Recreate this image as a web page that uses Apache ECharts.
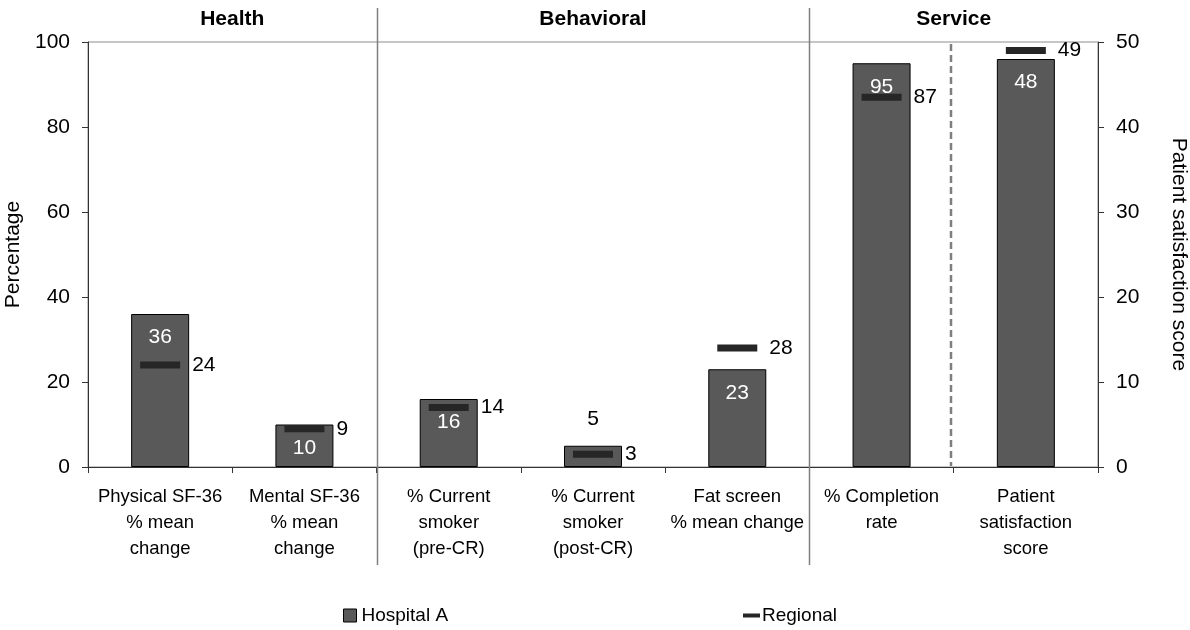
<!DOCTYPE html>
<html>
<head>
<meta charset="utf-8">
<title>Hospital A vs Regional</title>
<script src="https://cdn.jsdelivr.net/npm/echarts@6/dist/echarts.min.js"></script>
<style>
  html, body { margin: 0; padding: 0; background: #fff; }
  #main { width: 1190px; height: 630px; }
</style>
</head>
<body>
<div id="main"></div>
<script>
// data
var categories = [
  'Physical SF-36\n% mean\nchange',
  'Mental SF-36\n% mean\nchange',
  '% Current\nsmoker\n(pre-CR)',
  '% Current\nsmoker\n(post-CR)',
  'Fat screen\n% mean change',
  '% Completion\nrate',
  'Patient\nsatisfaction\nscore'
];
var hospitalPct = [36, 10, 16, 5, 23, 95, null];     // left axis
var hospitalScore = [null, null, null, null, null, null, 48]; // right axis
var regionalPct = [24, 9, 14, 3, 28, 87, null];
var regionalScore = [null, null, null, null, null, null, 49];
var groups = ['Health', 'Behavioral', 'Service'];
var groupSpans = [[0, 1], [2, 4], [5, 6]];
var pctTicks = [0, 20, 40, 60, 80, 100];
var scoreTicks = [0, 10, 20, 30, 40, 50];

var FONT = '"Liberation Sans", Arial, sans-serif';
var BAR = '#595959';
var MARK = '#262626';

function barData(arr) {
  return arr.map(function (v) {
    if (v == null) return '-';
    if (v < 8) {
      return { value: v, label: { position: 'top', color: '#000', distance: 16 } };
    }
    return v;
  });
}
function markData(arr) {
  return arr.map(function (v) { return v == null ? '-' : v; });
}

var barLabel = {
  show: true, position: 'insideTop', distance: 13,
  color: '#fff', fontSize: 21, fontFamily: FONT
};
var markLabel = {
  show: true, position: 'right', distance: 12,
  color: '#000', fontSize: 21, fontFamily: FONT
};

var chart = echarts.init(document.getElementById('main'));
var option = {
  animation: false,
  textStyle: { fontFamily: FONT },
  grid: {
    left: 88, right: 92, top: 42, bottom: 163,
    outerBoundsMode: 'none', containLabel: false,
    show: true, borderColor: '#8c8c8c', borderWidth: 1
  },
  legend: [
    {
      left: 338, top: 601, itemWidth: 13, itemHeight: 13,
      data: [{ name: 'Hospital A', icon: 'rect',
        itemStyle: { color: BAR, borderColor: '#000', borderWidth: 1 } }],
      textStyle: { fontSize: 19, color: '#000', fontFamily: FONT }
    },
    {
      left: 738, top: 601, itemWidth: 17, itemHeight: 4, itemGap: 2,
      data: [{ name: 'Regional', icon: 'rect', itemStyle: { color: MARK } }],
      textStyle: { fontSize: 19, color: '#000', fontFamily: FONT, padding: [0, 0, 0, -3] }
    }
  ],
  xAxis: {
    type: 'category',
    data: categories,
    axisLine: { lineStyle: { color: '#333', width: 1 } },
    axisTick: { show: true, length: 6, lineStyle: { color: '#333' } },
    axisLabel: {
      interval: 0, margin: 17, fontSize: 18.5, lineHeight: 26,
      color: '#000', fontFamily: FONT
    },
    splitLine: { show: false }
  },
  yAxis: [
    {
      type: 'value', min: 0, max: 100, interval: 20,
      name: 'Percentage', nameLocation: 'middle', nameGap: 55, nameRotate: 90,
      nameTextStyle: { fontSize: 21, color: '#000', fontFamily: FONT },
      axisLine: { show: true, lineStyle: { color: '#333' } },
      axisTick: { show: true, length: 6, lineStyle: { color: '#333' } },
      axisLabel: {
        fontSize: 21, color: '#000', margin: 18, fontFamily: FONT,
        customValues: pctTicks
      },
      splitLine: { show: false }
    },
    {
      type: 'value', min: 0, max: 50, interval: 10,
      name: 'Patient satisfaction score', nameLocation: 'middle', nameGap: 70, nameRotate: -90,
      nameTextStyle: { fontSize: 21, color: '#000', fontFamily: FONT },
      axisLine: { show: true, lineStyle: { color: '#333' } },
      axisTick: { show: true, length: 6, lineStyle: { color: '#333' } },
      axisLabel: {
        fontSize: 21, color: '#000', margin: 18, fontFamily: FONT,
        customValues: scoreTicks
      },
      splitLine: { show: false }
    }
  ],
  series: [
    {
      name: 'Hospital A', type: 'bar', yAxisIndex: 0,
      barWidth: 58, barGap: '-100%',
      itemStyle: { color: BAR, borderColor: '#000', borderWidth: 1 },
      label: barLabel,
      data: barData(hospitalPct), z: 2
    },
    {
      name: 'Hospital A', type: 'bar', yAxisIndex: 1,
      barWidth: 58, barGap: '-100%',
      itemStyle: { color: BAR, borderColor: '#000', borderWidth: 1 },
      label: barLabel,
      data: barData(hospitalScore), z: 2
    },
    {
      name: 'Regional', type: 'scatter', yAxisIndex: 0,
      symbol: 'rect', symbolSize: [40, 7],
      itemStyle: { color: MARK, opacity: 1 },
      label: markLabel,
      data: markData(regionalPct), z: 5
    },
    {
      name: 'Regional', type: 'scatter', yAxisIndex: 1,
      symbol: 'rect', symbolSize: [40, 7],
      itemStyle: { color: MARK, opacity: 1 },
      label: markLabel,
      data: markData(regionalScore), z: 5
    }
  ]
};
chart.setOption(option);

// separators and group titles, placed from the category axis
function catX(i) { return chart.convertToPixel({ xAxisIndex: 0 }, categories[i]); }
var step = catX(1) - catX(0);
function edgeLeft(i) { return catX(i) - step / 2; }
function edgeRight(i) { return catX(i) + step / 2; }

var graphics = [];
[2, 5].forEach(function (i) {
  var x = Math.round(edgeLeft(i)) + 0.5;
  graphics.push({
    type: 'line', shape: { x1: x, y1: 8, x2: x, y2: 565 },
    style: { stroke: '#7f7f7f', lineWidth: 1.5 }, z: 10
  });
});
var dx = Math.round(edgeLeft(6)) - 3;
graphics.push({
  type: 'line', shape: { x1: dx, y1: 44, x2: dx, y2: 466 },
  style: { stroke: '#7f7f7f', lineWidth: 2.5, lineDash: [7, 4] }, z: 10
});
groups.forEach(function (g, k) {
  var cx = (edgeLeft(groupSpans[k][0]) + edgeRight(groupSpans[k][1])) / 2;
  graphics.push({
    type: 'text', x: cx, y: 19,
    style: {
      text: g, fill: '#000', font: 'bold 21px ' + FONT,
      align: 'center', verticalAlign: 'middle'
    }, z: 10
  });
});
chart.setOption({ graphic: graphics });
</script>
</body>
</html>
